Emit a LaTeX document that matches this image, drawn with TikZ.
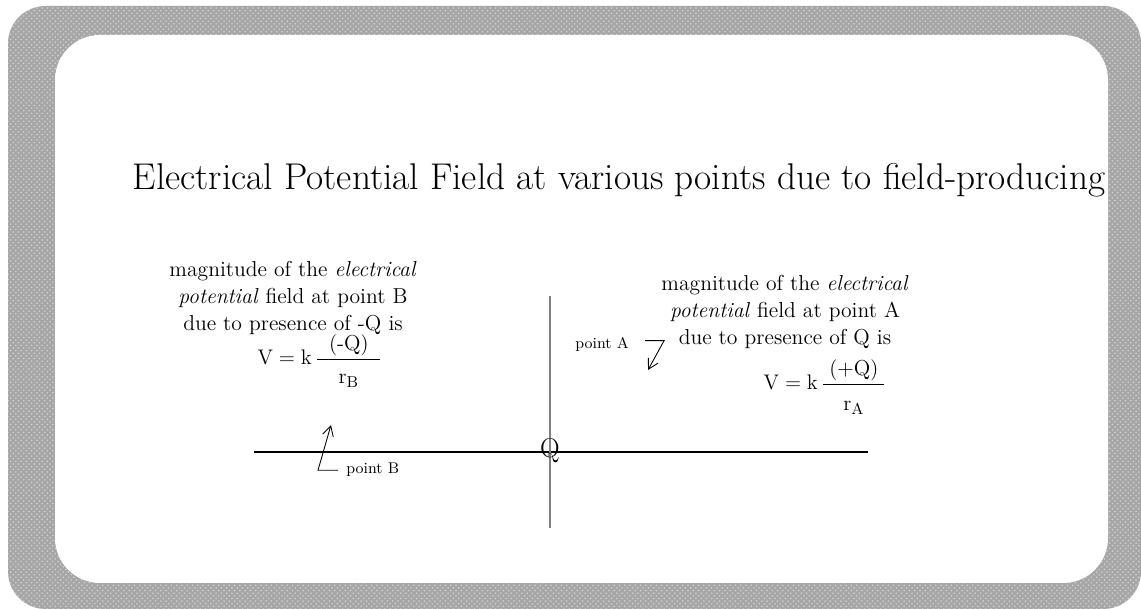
\documentclass[tikz,border=0pt]{standalone}
\usepackage{amsmath}
\usetikzlibrary{arrows.meta,patterns}

\begin{document}
\begin{tikzpicture}[>={Straight Barb[length=2mm,width=2.2mm]},
    txt/.style={align=center, font=\fontsize{12.3}{15.6}\selectfont},
    lbl/.style={inner sep=0pt, font=\fontsize{8.8}{10}\selectfont},
    pointer/.style={->, line width=0.5pt}]
    \useasboundingbox (0,0) rectangle (22.82,12.18);

    % frame
    \fill[gray!70, rounded corners=0.75cm] (0.16,0) rectangle (22.82,12.06);
    \fill[pattern=crosshatch dots, pattern color=gray!35, rounded corners=0.75cm]
        (0.16,0) rectangle (22.82,12.06);
    \fill[white, rounded corners=0.9cm] (1.10,0.52) rectangle (22.16,11.48);

    \node[font=\fontsize{21.2}{25}\selectfont] (title) at (12.38,8.58)
        {Electrical Potential Field at various points due to field-producing};

    \node[txt] (textB) at (5.86,6.22)
        {magnitude of the \textit{electrical}\\ \textit{potential} field at point B\\ due to presence of -Q is};
    \node[txt, anchor=base] (formB) at (6.40,4.88)
        {\(\mathrm{V} = \mathrm{k}\,\dfrac{\;\;(\text{-Q})\;\;}{\rule{0pt}{12pt}\mathrm{r}_{\mathrm{B}}}\)};

    \node[txt] (textA) at (15.70,5.94)
        {magnitude of the \textit{electrical}\\ \textit{potential} field at point A\\ due to presence of Q is};
    \node[txt, anchor=base] (formA) at (16.50,4.38)
        {\(\mathrm{V} = \mathrm{k}\,\dfrac{\;(\text{+Q})\;}{\rule{0pt}{13pt}\mathrm{r}_{\mathrm{A}}}\)};

    % axes
    \coordinate (xl) at (5.08,3.14);
    \coordinate (xr) at (17.36,3.14);
    \coordinate (yt) at (11.0,6.26);
    \coordinate (yb) at (11.0,1.62);
    \draw[line width=0.6pt] (xl) -- (xr);
    \draw[gray, line width=0.6pt] (yt) -- (yb);
    \node[font=\fontsize{15.5}{17}\selectfont, inner sep=0pt] (Q) at (11.0,3.16) {Q};

    % points
    \node[lbl, anchor=base west] (lblA) at (11.50,5.20) {point A};
    \coordinate (ptA) at (12.96,4.78);
    \draw[pointer] ([xshift=0.32cm, yshift=-0.06cm]lblA.north east) -- ++(0.38,0) -- (ptA);

    \node[lbl, anchor=base west] (lblB) at (6.92,2.70) {point B};
    \coordinate (ptB) at (6.62,3.68);
    \draw[pointer] ([xshift=-0.16cm]lblB.west) -- ++(-0.4,0) -- (ptB);
\end{tikzpicture}
\end{document}
